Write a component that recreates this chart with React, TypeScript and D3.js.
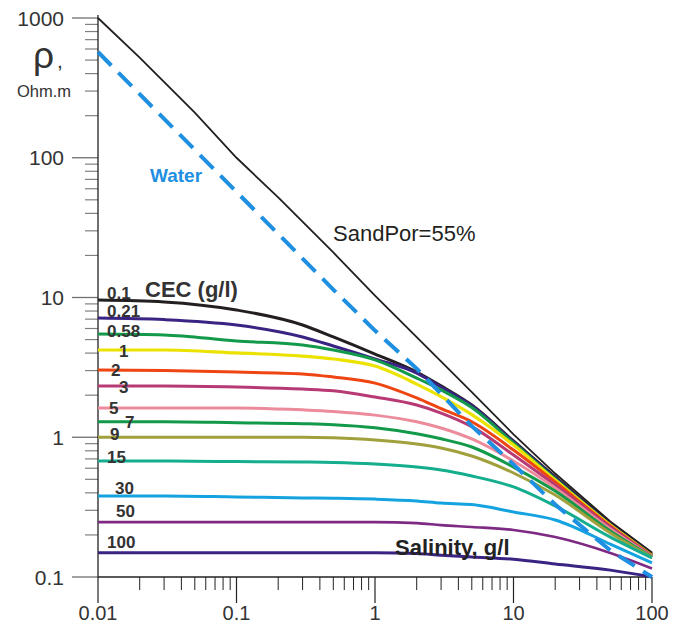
import { useMemo } from "react";
import * as d3 from "d3";

const WIDTH = 685;
const HEIGHT = 633;
const X0 = 98;
const X1 = 652;
const Y0 = 577;
const Y1 = 18;

// x grid for the two reference lines
const LINE_X = [0.01, 0.02, 0.05, 0.1, 0.2, 0.5, 1, 2, 5, 10, 20, 50, 100];
const SANDPOR = [1000, 520, 210, 100, 52, 21, 10.3, 5.2, 2.1, 1.05, 0.55, 0.25, 0.15];
const WATER = [571, 285, 114, 57, 28.5, 11.4, 5.8, 3.1, 1.2, 0.64, 0.33, 0.155, 0.1];

// x grid for the CEC curves
const CEC_X = [0.01, 0.03, 0.1, 0.3, 0.5, 1, 2, 3, 5, 10, 20, 50, 100];
const CEC_LABELS = ["0.1", "0.21", "0.58", "1", "2", "3", "5", "7", "9", "15", "30", "50", "100"];
const CEC_0_1 = [9.6, 9.3, 8.14, 6.36, 5.22, 3.94, 2.93, 2.33, 1.7, 0.94, 0.52, 0.2435, 0.146];
const CEC_0_21 = [7.13, 6.95, 6.36, 5.22, 4.5, 3.63, 2.88, 2.29, 1.68, 0.925, 0.511, 0.2395, 0.145];
const CEC_0_58 = [5.48, 5.4, 4.88, 4.57, 4.21, 3.58, 2.65, 2.18, 1.63, 0.91, 0.503, 0.236, 0.144];
const CEC_1 = [4.21, 4.21, 4.01, 3.81, 3.63, 3.23, 2.4, 1.95, 1.45, 0.88, 0.494, 0.2355, 0.143];
const CEC_2 = [3.03, 3.0, 2.93, 2.84, 2.7, 2.44, 1.91, 1.6, 1.29, 0.81, 0.478, 0.2317, 0.142];
const CEC_3 = [2.33, 2.33, 2.29, 2.21, 2.15, 1.94, 1.7, 1.49, 1.19, 0.746, 0.455, 0.228, 0.141];
const CEC_5 = [1.62, 1.62, 1.62, 1.57, 1.53, 1.44, 1.29, 1.165, 0.972, 0.676, 0.434, 0.2206, 0.14];
const CEC_7 = [1.29, 1.29, 1.27, 1.25, 1.23, 1.17, 1.06, 0.975, 0.852, 0.612, 0.412, 0.2134, 0.139];
const CEC_9 = [1.0, 1.0, 1.0, 1.0, 0.99, 0.956, 0.895, 0.838, 0.734, 0.555, 0.386, 0.2064, 0.138];
const CEC_15 = [0.676, 0.676, 0.67, 0.665, 0.66, 0.643, 0.612, 0.583, 0.528, 0.441, 0.322, 0.193, 0.137];
const CEC_30 = [0.38, 0.38, 0.374, 0.368, 0.366, 0.361, 0.35, 0.338, 0.33, 0.292, 0.256, 0.172, 0.126];
const CEC_50 = [0.247, 0.247, 0.247, 0.247, 0.247, 0.247, 0.243, 0.235, 0.228, 0.217, 0.193, 0.1485, 0.115];
const CEC_100 = [0.149, 0.149, 0.149, 0.149, 0.149, 0.149, 0.147, 0.143, 0.139, 0.134, 0.124, 0.112, 0.1];

const CEC_SERIES = [CEC_0_1, CEC_0_21, CEC_0_58, CEC_1, CEC_2, CEC_3, CEC_5, CEC_7, CEC_9, CEC_15, CEC_30, CEC_50, CEC_100];

const CEC_COLORS = [
  "#231f20", "#3b2383", "#12994a", "#ece200", "#ee4512", "#b83a74", "#ec8b9b",
  "#12994a", "#a0a03c", "#14ad8e", "#14a3e0", "#7e2a84", "#3b2383",
];
const CEC_WIDTHS = [3, 3, 3, 3.2, 3, 3, 3, 3, 3, 3, 3, 2.6, 3];
// label offsets (dx from axis, dy from curve start)
const LABEL_OFF = [
  [9, -1], [9, -1], [9, 3], [21, 7], [13, 6], [21, 7], [11, 6],
  [27, 6], [12, 3], [9, 2], [17, -2], [18, -5], [9, -5],
];

const Y_TICKS = [0.1, 1, 10, 100, 1000];
const X_TICKS = [0.01, 0.1, 1, 10, 100];

function minorTicks(lo: number, hi: number) {
  const out: number[] = [];
  for (let p = lo; p < hi; p++) {
    for (let k = 2; k <= 9; k++) out.push(k * Math.pow(10, p));
  }
  return out;
}

const App = () => {
  const x = useMemo(() => d3.scaleLog().domain([0.01, 100]).range([X0, X1]), []);
  const y = useMemo(() => d3.scaleLog().domain([0.1, 1000]).range([Y0, Y1]), []);

  const smooth = d3
    .line<[number, number]>()
    .x((d) => x(d[0]))
    .y((d) => y(d[1]))
    .curve(d3.curveMonotoneX);
  const straight = d3
    .line<[number, number]>()
    .x((d) => x(d[0]))
    .y((d) => y(d[1]));

  const pair = (xs: number[], ys: number[]) => xs.map((v, i) => [v, ys[i]] as [number, number]);

  const font = "Arial, 'Liberation Sans', Helvetica, sans-serif";

  return (
    <svg width={WIDTH} height={HEIGHT} style={{ position: "absolute", left: 0, top: 0 }} fontFamily={font}>
      <rect width={WIDTH} height={HEIGHT} fill="#fff" />

      {/* y axis ticks */}
      {minorTicks(-1, 3).map((t) => (
        <line key={"ym" + t} x1={85} x2={X0} y1={y(t)} y2={y(t)} stroke="#808080" strokeWidth={1.2} />
      ))}
      {Y_TICKS.map((t) => (
        <g key={"y" + t}>
          <line x1={72} x2={X0} y1={y(t)} y2={y(t)} stroke="#707070" strokeWidth={1.3} />
          <text x={64} y={y(t) + 7.5} textAnchor="end" fontSize={21} fill="#333">
            {t}
          </text>
        </g>
      ))}

      {/* x axis ticks */}
      {minorTicks(-2, 2).map((t) => (
        <line key={"xm" + t} x1={x(t)} x2={x(t)} y1={Y0} y2={Y0 + 13} stroke="#222" strokeWidth={1} />
      ))}
      {X_TICKS.map((t) => (
        <g key={"x" + t}>
          <line x1={x(t)} x2={x(t)} y1={Y0} y2={Y0 + 26} stroke="#222" strokeWidth={1.2} />
          <text x={x(t)} y={620} textAnchor="middle" fontSize={20} fill="#333">
            {t}
          </text>
        </g>
      ))}

      <line x1={X0} x2={X0} y1={15} y2={Y0} stroke="#222" strokeWidth={1.3} />
      <line x1={X0} x2={X1} y1={Y0} y2={Y0} stroke="#222" strokeWidth={1.3} />

      {/* axis title */}
      <text x={33} y={68} fontSize={37} fill="#333">ρ</text>
      <text x={57} y={68} fontSize={21} fill="#333">,</text>
      <text x={17} y={97} fontSize={16.5} fill="#333">Ohm.m</text>

      {/* CEC curves */}
      {CEC_SERIES.map((s, i) => (
        <path
          key={"c" + i}
          d={smooth(pair(CEC_X, s)) || ""}
          fill="none"
          stroke={CEC_COLORS[i]}
          strokeWidth={CEC_WIDTHS[i]}
          strokeLinejoin="round"
        />
      ))}

      {/* sandpor line */}
      <path d={straight(pair(LINE_X, SANDPOR)) || ""} fill="none" stroke="#231f20" strokeWidth={1.8} />

      {/* water line */}
      <path
        d={straight(pair(LINE_X, WATER)) || ""}
        fill="none"
        stroke="#1e8fe1"
        strokeWidth={4}
        strokeDasharray="19 10"
      />

      {/* labels */}
      {CEC_LABELS.map((lab, i) => (
        <text
          key={"l" + i}
          x={X0 + LABEL_OFF[i][0]}
          y={y(CEC_SERIES[i][0]) + LABEL_OFF[i][1]}
          fontSize={17}
          fontWeight="bold"
          fill="#333"
        >
          {lab}
        </text>
      ))}
      <text x={145} y={297} fontSize={22} fontWeight="bold" fill="#333">CEC (g/l)</text>
      <text x={395} y={555} fontSize={22} fontWeight="bold" fill="#222">Salinity, g/l</text>
      <text x={333} y={241} fontSize={22} fill="#231f20">SandPor=55%</text>
      <text x={150} y={182} fontSize={19} fontWeight="bold" fill="#1e8fe1">Water</text>
    </svg>
  );
};

export default App;
